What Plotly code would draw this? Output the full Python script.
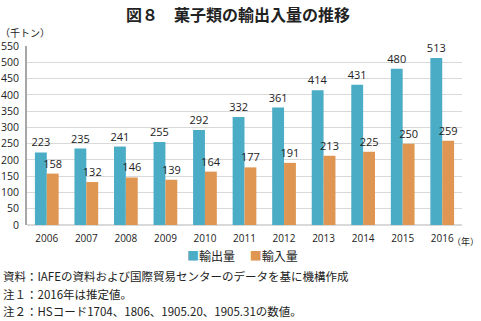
import plotly.graph_objects as go

years = ["2006", "2007", "2008", "2009", "2010", "2011", "2012", "2013", "2014", "2015", "2016"]
exports = [223, 235, 241, 255, 292, 332, 361, 414, 431, 480, 513]
imports = [158, 132, 146, 139, 164, 177, 191, 213, 225, 250, 259]
y_ticks = list(range(0, 551, 50))

JP = "Noto Sans CJK JP"
NUM = "Open Sans"
c_exp = "#4BACC6"
c_imp = "#DE9652"

fig = go.Figure()
fig.add_trace(go.Bar(x=years, y=exports, name="輸出量", marker=dict(color=c_exp, line=dict(width=0)),
                     text=exports, textposition="outside", cliponaxis=False, constraintext="none",
                     textfont=dict(family=NUM, size=11, color="#222")))
fig.add_trace(go.Bar(x=years, y=imports, name="輸入量", marker=dict(color=c_imp, line=dict(width=0)),
                     text=imports, textposition="outside", cliponaxis=False, constraintext="none",
                     textfont=dict(family=NUM, size=11, color="#222")))

fig.update_layout(
    width=481, height=321,
    margin=dict(l=27, r=19, t=46, b=96),
    paper_bgcolor="white", plot_bgcolor="white",
    barmode="group", bargap=0.4, bargroupgap=0,
    showlegend=False,
    xaxis=dict(tickfont=dict(family=NUM, size=10, color="#222"), showline=False, ticks="",
               showgrid=False, ticklabelstandoff=6, automargin=False),
    yaxis=dict(range=[0, 550], tickvals=y_ticks, tickfont=dict(family=NUM, size=10.5, color="#222"),
               showgrid=True, gridcolor="#D9D9D9", gridwidth=1, showline=True, linecolor="#A6A6A6",
               linewidth=2, ticks="", zeroline=True, zerolinecolor="#D9D9D9", ticklabelstandoff=4,
               automargin=False),
)

ann = []
ann.append(dict(text="<b>図８　菓子類の輸出入量の推移</b>", xref="paper", yref="paper",
                x=0.5, y=1, xanchor="center", yanchor="middle",
                xshift=-7, yshift=46 - 14, showarrow=False,
                font=dict(family=JP, size=16, color="#222")))
ann.append(dict(text="（千トン）", xref="paper", yref="paper", x=0, y=1, xanchor="left",
                yanchor="middle", xshift=-29, yshift=46 - 32, showarrow=False,
                font=dict(family=JP, size=10, color="#222")))
ann.append(dict(text="（年）", xref="paper", yref="paper", x=1, y=0, xanchor="right",
                yanchor="middle", xshift=19, yshift=-16, showarrow=False,
                font=dict(family=JP, size=9, color="#222")))
legend_text = (f"<span style='color:{c_exp}'>■</span>輸出量　&nbsp;"
               f"<span style='color:{c_imp}'>■</span>輸入量")
ann.append(dict(text=legend_text, xref="paper", yref="paper", x=0.5, y=0, xanchor="center",
                yanchor="middle", xshift=-2, yshift=225 - 255, showarrow=False,
                font=dict(family=JP, size=12, color="#222")))
notes = ["資料：IAFEの資料および国際貿易センターのデータを基に機構作成",
         "注１：2016年は推定値。",
         "注２：HSコード1704、1806、1905.20、1905.31の数値。"]
note_y = [276, 294, 311]
for t, py in zip(notes, note_y):
    ann.append(dict(text=t, xref="paper", yref="paper", x=0, y=0, xanchor="left", yanchor="middle",
                    xshift=-26, yshift=225 - py, showarrow=False,
                    font=dict(family=JP, size=11.5, color="#222")))
fig.update_layout(annotations=ann)

fig.write_html("out.html")
